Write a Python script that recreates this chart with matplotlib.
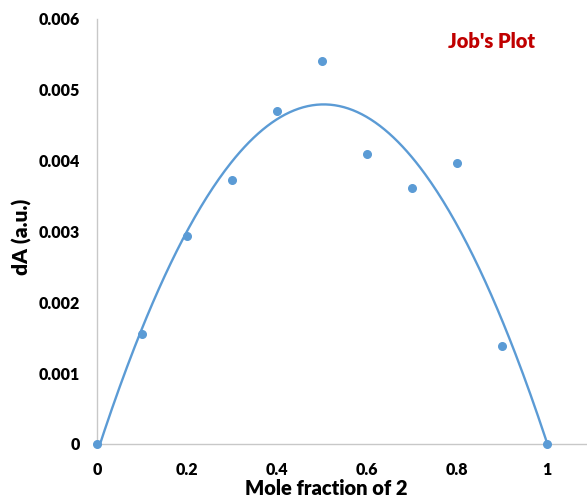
import matplotlib
matplotlib.use("Agg")
import matplotlib.pyplot as plt
import numpy as np

x = [0, 0.1, 0.2, 0.3, 0.4, 0.5, 0.6, 0.7, 0.8, 0.9, 1.0]
dA = [0, 0.00156, 0.00293, 0.00372, 0.00470, 0.00541, 0.00410, 0.00361, 0.00397, 0.00139, 0]
xticks = [0, 0.2, 0.4, 0.6, 0.8, 1]
xticklabels = ["0", "0.2", "0.4", "0.6", "0.8", "1"]
yticks = [0, 0.001, 0.002, 0.003, 0.004, 0.005, 0.006]
yticklabels = ["0", "0.001", "0.002", "0.003", "0.004", "0.005", "0.006"]

W, H = 587, 497
fig = plt.figure(figsize=(W/100, H/100), dpi=100)
left, right, bottom, top = 97, 590, 444, 19
ax = fig.add_axes([left/W, (H-bottom)/H, (right-left)/W, (bottom-top)/H])

fam = ["Lato", "DejaVu Sans"]
blue = "#5B9BD5"

coef = np.polyfit(x, dA, 2)
xs = np.linspace(0, 1, 300)
ax.plot(xs, np.polyval(coef, xs), color=blue, lw=1.7, zorder=2)
ax.scatter(x, dA, s=30, color=blue, zorder=3, clip_on=False)

ax.set_xlim(0, (right-left)/450)
ax.set_ylim(0, 0.006)
ax.set_xticks(xticks)
ax.set_xticklabels(xticklabels)
ax.set_yticks(yticks)
ax.set_yticklabels(yticklabels)
ax.tick_params(length=0)
ax.tick_params(axis="x", pad=13)
ax.tick_params(axis="y", pad=12)
for lab in ax.get_xticklabels() + ax.get_yticklabels():
    lab.set_fontfamily(fam)
    lab.set_fontweight("heavy")
    lab.set_fontsize(11.5)
for s in ["top", "right"]:
    ax.spines[s].set_visible(False)
for s in ["left", "bottom"]:
    ax.spines[s].set_color("#C8C8C8")
    ax.spines[s].set_linewidth(1.0)

fig.text(326/W, 1-495/H, "Mole fraction of 2", ha="center", va="baseline",
         fontsize=14.5, fontweight="heavy", family=fam)
fig.text(22/W, 1-237/H, "dA (a.u.)", ha="center", va="center", rotation=90,
         fontsize=15, fontweight="heavy", family=fam)
fig.text(492/W, 1-42/H, "Job's Plot", ha="center", va="center",
         fontsize=14.5, fontweight="heavy", family=fam, color="#C00000")

fig.savefig("out.png", dpi=100)
